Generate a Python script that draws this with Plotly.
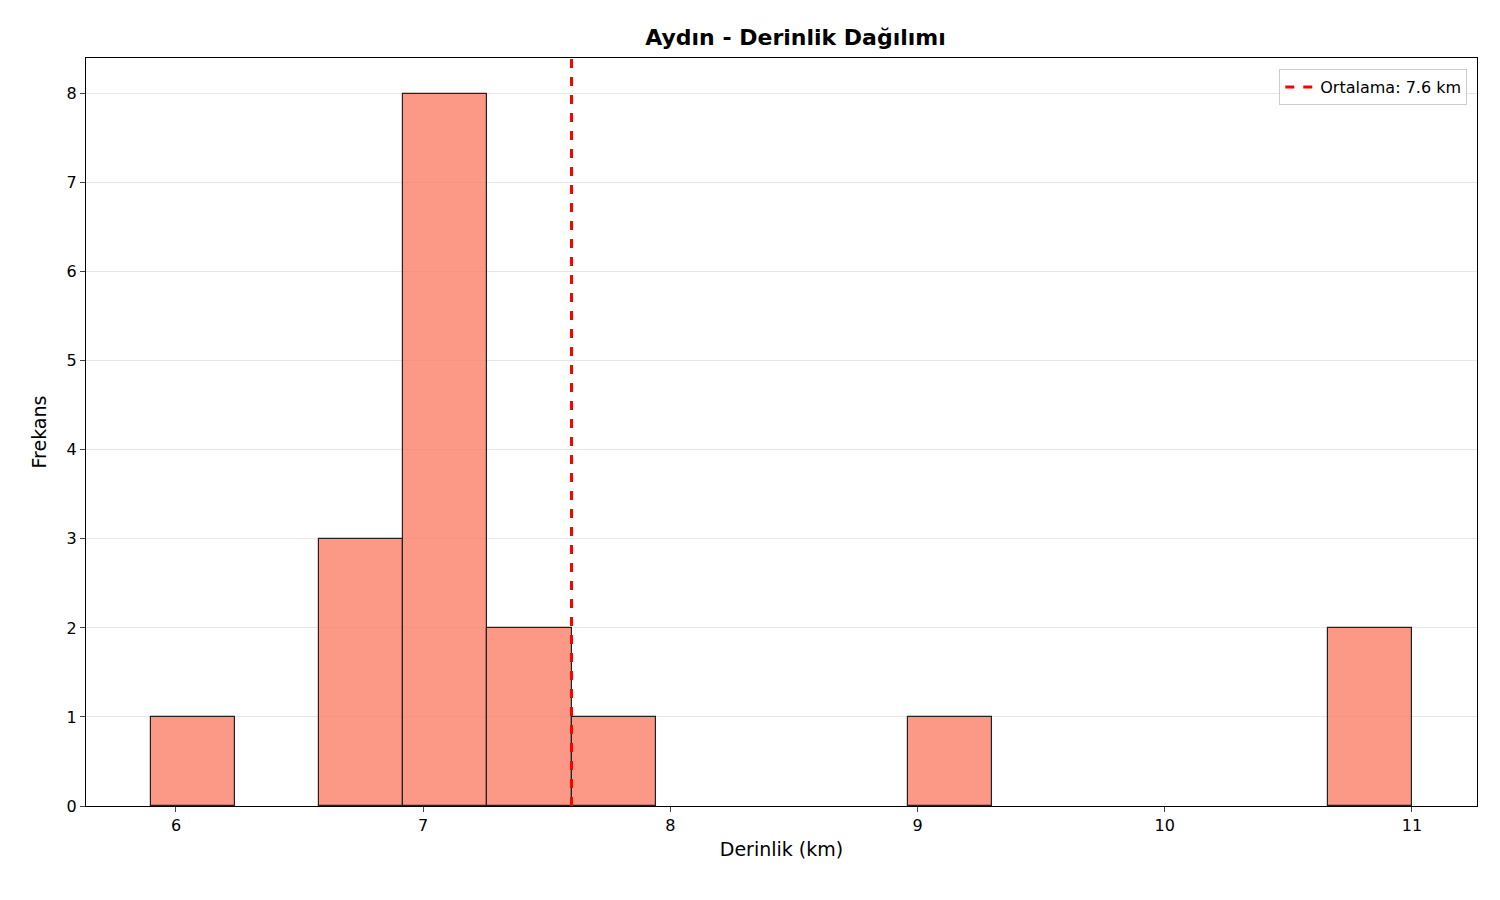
import numpy as np
import plotly.graph_objects as go

# histogram: 15 equal bins from 5.9 to 11.0 km
bin_start = 5.9
bin_end = 11.0
counts = [1, 0, 3, 8, 2, 1, 0, 0, 0, 1, 0, 0, 0, 0, 2]
mean_depth = 7.6

edges = np.linspace(bin_start, bin_end, len(counts) + 1)
centers = (edges[:-1] + edges[1:]) / 2
width = edges[1] - edges[0]
shown = [c if c > 0 else None for c in counts]  # empty bins draw no outline

fig = go.Figure()
fig.add_trace(go.Bar(
    x=centers, y=shown, width=width,
    marker=dict(color='rgba(250,128,104,0.8)', line=dict(color='#222', width=1.2)),
    showlegend=False,
))
fig.add_trace(go.Scatter(
    x=[mean_depth, mean_depth], y=[0, 8.4], mode='lines',
    line=dict(color='red', width=3, dash='dash'),
    name=f'Ortalama: {mean_depth} km',
))

fig.update_layout(
    width=1500, height=900,
    paper_bgcolor='white', plot_bgcolor='white',
    margin=dict(l=78, r=31, t=50, b=102),
    font=dict(family='DejaVu Sans', size=16, color='black'),
    title=dict(text='<b>Aydın - Derinlik Dağılımı</b>', x=0.525, xanchor='center',
               y=0.968, yanchor='middle', font=dict(size=22)),
    bargap=0,
    legend=dict(x=0.993, y=0.985, xanchor='right', yanchor='top',
                bordercolor='#ccc', borderwidth=1, bgcolor='white',
                font=dict(size=16)),
)
fig.update_xaxes(
    range=[5.636, 11.263], tickvals=[6, 7, 8, 9, 10, 11],
    title=dict(text='Derinlik (km)', font=dict(size=19), standoff=8),
    showline=True, linecolor='black', mirror=True, ticks='outside',
    showgrid=False, zeroline=False,
)
fig.update_yaxes(
    range=[0, 8.4], dtick=1,
    title=dict(text='Frekans', font=dict(size=19), standoff=14),
    showline=True, linecolor='black', mirror=True, ticks='outside',
    showgrid=True, gridcolor='#e6e6e6', zeroline=False,
)

fig.write_html("out.html")
